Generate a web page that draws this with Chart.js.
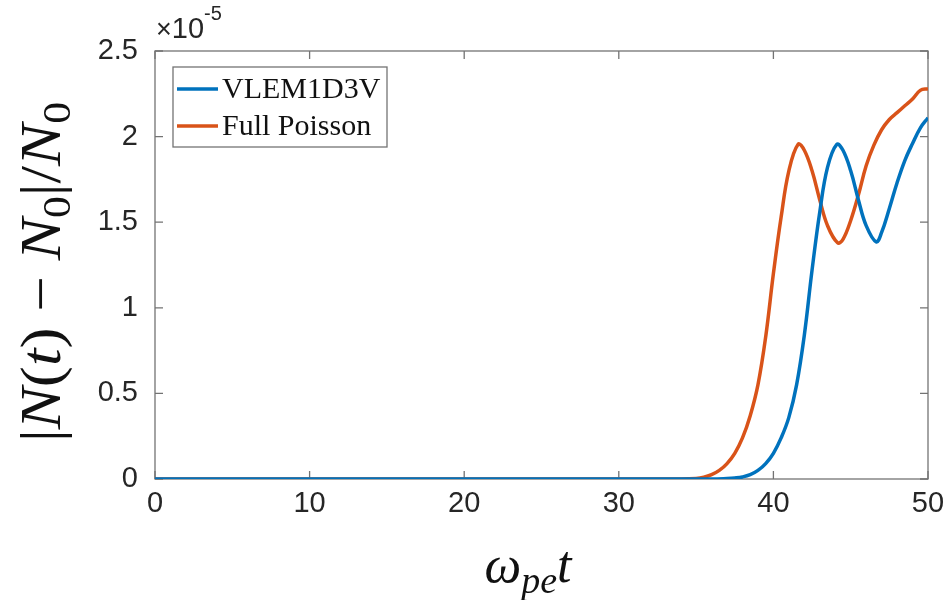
<!DOCTYPE html>
<html>
<head>
<meta charset="utf-8">
<script src="https://cdn.jsdelivr.net/npm/chart.js@4/dist/chart.umd.min.js"></script>
<style>
  html, body { margin: 0; padding: 0; background: #fff; }
  canvas { display: block; }
</style>
</head>
<body>
<canvas id="c" width="946" height="600"></canvas>
<script>
// Particle-number drift |N(t) - N0| / N0, values in units of 1e-5.
const seriesNames = ['VLEM1D3V', 'Full Poisson'];
const seriesColors = ['#0072BD', '#D95319'];

const tBlue = [0, 10, 20, 30, 36, 37, 37.5, 38, 38.5, 39, 39.5, 40, 40.5, 41, 41.5, 42, 42.5, 43, 43.5, 44.1,
  44.5, 45, 45.5, 46, 46.65, 47, 47.5, 48, 48.5, 49, 49.5, 50];
const nBlue = [0, 0, 0, 0, 0, 0.003, 0.006, 0.012, 0.025, 0.05, 0.09, 0.15, 0.24, 0.36, 0.55, 0.84, 1.22, 1.56, 1.82, 1.955,
  1.92, 1.8, 1.63, 1.48, 1.385, 1.44, 1.58, 1.73, 1.86, 1.96, 2.05, 2.11];

const tRed = [0, 10, 20, 30, 34, 35, 35.5, 36, 36.5, 37, 37.5, 38, 38.5, 39, 39.5, 40, 40.5, 41, 41.6, 42,
  42.5, 43, 43.5, 44.15, 44.5, 45, 45.5, 46, 46.5, 47, 47.5, 48, 48.5, 49, 49.5, 50];
const nRed = [0, 0, 0, 0, 0, 0.003, 0.01, 0.025, 0.05, 0.09, 0.15, 0.24, 0.37, 0.55, 0.83, 1.2, 1.53, 1.8, 1.955, 1.92,
  1.8, 1.63, 1.48, 1.38, 1.40, 1.51, 1.66, 1.83, 1.95, 2.04, 2.10, 2.14, 2.18, 2.22, 2.27, 2.28];

const xTicks = [0, 10, 20, 30, 40, 50];
const yTicks = [0, 0.5, 1, 1.5, 2, 2.5];
const yExponent = '-5';

const AXIS_GREY = '#737373';
const TEXT_DARK = '#262626';
const SANS = '"Liberation Sans", Arial, sans-serif';
const SERIF = '"Liberation Serif", "DejaVu Serif", serif';

function toPoints(ts, vs) {
  return ts.map((t, i) => ({ x: t, y: vs[i] }));
}

// MATLAB-style box with inward ticks on all four sides.
const framePlugin = {
  id: 'frame',
  beforeDatasetsDraw(chart) {
    const { ctx, chartArea: a, scales } = chart;
    const len = 8;
    ctx.save();
    ctx.strokeStyle = AXIS_GREY;
    ctx.lineWidth = 1.3;
    ctx.strokeRect(a.left, a.top, a.right - a.left, a.bottom - a.top);
    ctx.beginPath();
    for (const v of xTicks) {
      const px = scales.x.getPixelForValue(v);
      ctx.moveTo(px, a.bottom); ctx.lineTo(px, a.bottom - len);
      ctx.moveTo(px, a.top); ctx.lineTo(px, a.top + len);
    }
    for (const v of yTicks) {
      const py = scales.y.getPixelForValue(v);
      ctx.moveTo(a.left, py); ctx.lineTo(a.left + len, py);
      ctx.moveTo(a.right, py); ctx.lineTo(a.right - len, py);
    }
    ctx.stroke();
    ctx.restore();
  },
};

// Boxed legend in the upper-left corner of the axes.
const boxLegendPlugin = {
  id: 'boxLegend',
  afterDatasetsDraw(chart) {
    const { ctx, chartArea: a } = chart;
    const x0 = a.left + 18, y0 = a.top + 16, w = 214, h = 80;
    ctx.save();
    ctx.fillStyle = '#fff';
    ctx.fillRect(x0, y0, w, h);
    ctx.strokeStyle = AXIS_GREY;
    ctx.lineWidth = 1.3;
    ctx.strokeRect(x0, y0, w, h);
    ctx.font = '30px ' + SERIF;
    ctx.textBaseline = 'alphabetic';
    chart.data.datasets.forEach((ds, i) => {
      const cy = y0 + 22 + i * 37;
      ctx.strokeStyle = ds.borderColor;
      ctx.lineWidth = 3.5;
      ctx.beginPath();
      ctx.moveTo(x0 + 4, cy); ctx.lineTo(x0 + 45, cy);
      ctx.stroke();
      ctx.fillStyle = '#111';
      ctx.fillText(ds.label, x0 + 49, cy + 9);
    });
    ctx.restore();
  },
};

// Draw a run of [text, font, dy] pieces starting at x along a baseline.
function drawRun(ctx, pieces, x, y) {
  for (const [txt, font, dy] of pieces) {
    ctx.font = font;
    ctx.fillText(txt, x, y + (dy || 0));
    x += ctx.measureText(txt).width;
  }
}
function runWidth(ctx, pieces) {
  let w = 0;
  for (const [txt, font] of pieces) { ctx.font = font; w += ctx.measureText(txt).width; }
  return w;
}

// Axis titles with sub/superscripts and the x10^-5 multiplier.
const titlesPlugin = {
  id: 'titles',
  afterDraw(chart) {
    const { ctx } = chart;
    ctx.save();
    ctx.fillStyle = '#111';
    ctx.textBaseline = 'alphabetic';

    const big = '58px ' + SERIF, bigIt = 'italic 58px ' + SERIF, sub = '40px ' + SERIF;
    const yPieces = [
      ['|', big], ['N', bigIt], ['(', big], ['t', bigIt], [')', big], [' \u2212 ', big],
      ['N', bigIt], ['0', sub, 10], ['|/', big], ['N', bigIt], ['0', sub, 10],
    ];
    const yw = runWidth(ctx, yPieces);
    ctx.save();
    ctx.translate(60, 272);
    ctx.rotate(-Math.PI / 2);
    ctx.scale(1.09, 1);
    drawRun(ctx, yPieces, -yw / 2, 0);
    ctx.restore();

    const xPieces = [['\u03c9', 'italic 52px ' + SERIF], ['pe', 'italic 38px ' + SERIF, 11], ['t', 'italic 52px ' + SERIF]];
    const xw = runWidth(ctx, xPieces);
    drawRun(ctx, xPieces, 528 - xw / 2, 582);

    ctx.fillStyle = TEXT_DARK;
    drawRun(ctx, [['\u00d7', '27px ' + SANS], ['10', '29px ' + SANS], [yExponent, '20px ' + SANS, -18]], 156, 38);
    ctx.restore();
  },
};

new Chart(document.getElementById('c'), {
  type: 'line',
  data: {
    datasets: [
      { label: seriesNames[0], data: toPoints(tBlue, nBlue), borderColor: seriesColors[0] },
      { label: seriesNames[1], data: toPoints(tRed, nRed), borderColor: seriesColors[1] },
    ],
  },
  options: {
    responsive: false,
    animation: false,
    devicePixelRatio: 1,
    layout: { padding: { top: 51, right: 18, left: 0, bottom: 0 } },
    elements: {
      point: { radius: 0 },
      line: { borderWidth: 3.5, tension: 0.4, fill: false },
    },
    plugins: { legend: { display: false }, tooltip: { enabled: false } },
    scales: {
      x: {
        type: 'linear', min: 0, max: 50,
        afterBuildTicks: s => { s.ticks = xTicks.map(v => ({ value: v })); },
        afterFit: s => { s.height = 121; s.paddingLeft = 0; s.paddingRight = 0; },
        grid: { display: false, drawTicks: false },
        border: { display: false },
        ticks: { color: TEXT_DARK, font: { family: SANS, size: 29 }, padding: 8, maxRotation: 0 },
      },
      y: {
        type: 'linear', min: 0, max: 2.5,
        afterBuildTicks: s => { s.ticks = yTicks.map(v => ({ value: v })); },
        afterFit: s => { s.width = 155; s.paddingTop = 0; s.paddingBottom = 0; },
        grid: { display: false, drawTicks: false },
        border: { display: false },
        ticks: { color: TEXT_DARK, font: { family: SANS, size: 29 }, padding: 17, callback: v => String(v) },
      },
    },
  },
  plugins: [framePlugin, boxLegendPlugin, titlesPlugin],
});
</script>
</body>
</html>
